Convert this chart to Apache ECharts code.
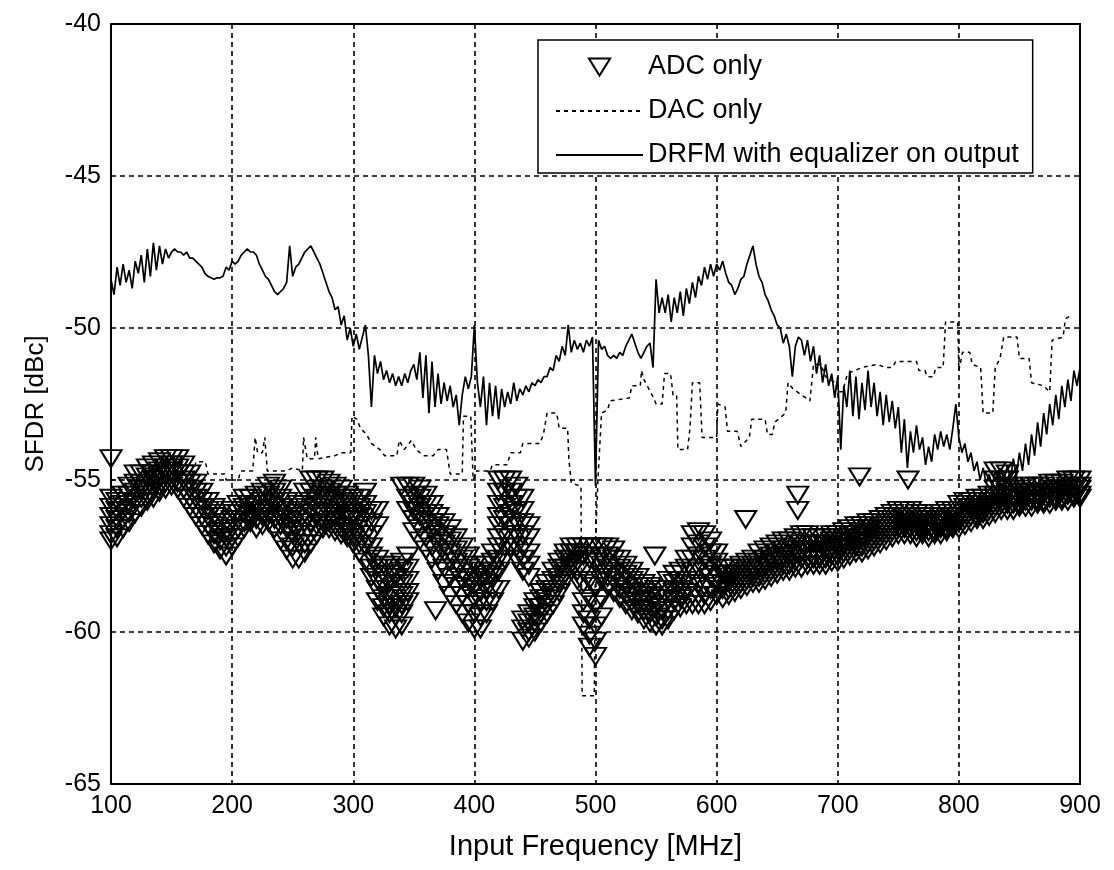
<!DOCTYPE html>
<html>
<head>
<meta charset="utf-8">
<script src="https://cdn.jsdelivr.net/npm/echarts@6/dist/echarts.min.js"></script>
<style>
html,body{margin:0;padding:0;background:#fff;}
#chart{width:1114px;height:870px;}
</style>
</head>
<body>
<div id="chart"></div>
<script>
// ---------------- DATA ----------------
const seriesNames = ['ADC only', 'DAC only', 'DRFM with equalizer on output'];
const xTicks = [100, 200, 300, 400, 500, 600, 700, 800, 900];
const yTicks = [-65, -60, -55, -50, -45, -40];

// ADC only: frequency [MHz] -> measured SFDR values [dBc]
const adcSamples = [
  [100, [-54.3, -55.6, -55.9, -56.2, -56.5, -56.8, -57.0]],
  [105, [-55.7, -56.0, -56.3, -56.6, -56.9]],
  [110, [-55.5, -55.8, -56.0, -56.3, -56.6]],
  [115, [-55.2, -55.5, -55.8, -56.1, -56.4]],
  [120, [-54.8, -55.1, -55.4, -55.7, -56.1]],
  [125, [-54.8, -55.1, -55.3, -55.6, -55.9]],
  [130, [-54.6, -54.9, -55.2, -55.5, -55.7]],
  [135, [-54.5, -54.8, -55.0, -55.3, -55.6]],
  [140, [-54.4, -54.7, -54.9, -55.2, -55.4]],
  [145, [-54.3, -54.6, -54.8, -55.1, -55.3]],
  [150, [-54.3, -54.5, -54.7, -55.0, -55.2]],
  [155, [-54.3, -54.6, -54.8, -55.1, -55.3]],
  [160, [-54.5, -54.8, -55.0, -55.3, -55.6]],
  [165, [-54.8, -55.1, -55.3, -55.6, -55.9]],
  [170, [-55.1, -55.4, -55.6, -55.9, -56.2]],
  [175, [-55.4, -55.7, -55.9, -56.2, -56.5]],
  [180, [-55.7, -56.0, -56.2, -56.5, -56.8]],
  [185, [-55.9, -56.2, -56.5, -56.8, -57.1]],
  [190, [-56.1, -56.4, -56.7, -57.0, -57.3]],
  [195, [-56.4, -56.7, -56.9, -57.2, -57.5]],
  [200, [-56.0, -56.3, -56.6, -56.9, -57.2]],
  [205, [-55.8, -56.1, -56.3, -56.6, -56.9]],
  [210, [-55.6, -55.9, -56.1, -56.4, -56.6]],
  [215, [-55.6, -55.8, -56.0, -56.2, -56.4]],
  [220, [-55.5, -55.8, -56.0, -56.3, -56.6]],
  [225, [-55.4, -55.7, -56.0, -56.2, -56.5]],
  [230, [-55.2, -55.5, -55.8, -56.1, -56.4]],
  [235, [-55.1, -55.4, -55.7, -55.9, -56.3, -56.6]],
  [240, [-55.3, -55.6, -55.9, -56.2, -56.5, -57.0]],
  [245, [-55.7, -56.0, -56.3, -56.6, -57.0, -57.3]],
  [250, [-55.9, -56.2, -56.5, -56.8, -57.2, -57.6]],
  [255, [-55.8, -56.1, -56.4, -56.7, -57.1, -57.6]],
  [260, [-55.4, -55.8, -56.1, -56.4, -56.8, -57.1, -57.4]],
  [265, [-55.0, -55.4, -55.7, -56.0, -56.4, -56.8, -57.1]],
  [270, [-55.0, -55.3, -55.6, -55.9, -56.2, -56.5, -56.8]],
  [275, [-55.0, -55.3, -55.5, -55.8, -56.1, -56.4, -56.6]],
  [280, [-55.1, -55.4, -55.6, -55.8, -56.1, -56.4, -56.6]],
  [285, [-55.2, -55.5, -55.7, -55.9, -56.2, -56.5, -56.7]],
  [290, [-55.3, -55.6, -55.8, -56.0, -56.3, -56.6, -56.8]],
  [295, [-55.5, -55.7, -56.0, -56.2, -56.5, -56.7, -56.9]],
  [300, [-55.6, -55.9, -56.1, -56.3, -56.6, -56.9, -57.1]],
  [305, [-55.6, -55.9, -56.2, -56.5, -56.8, -57.1, -57.4]],
  [310, [-55.4, -55.8, -56.1, -56.5, -56.8, -57.2, -57.7]],
  [315, [-56.0, -56.4, -56.8, -57.2, -57.5, -57.9, -58.2]],
  [320, [-56.0, -56.5, -57.6, -57.9, -58.3, -58.6, -59.0]],
  [325, [-57.8, -58.1, -58.4, -58.6, -58.9, -59.2, -59.5]],
  [330, [-57.8, -58.1, -58.4, -58.8, -59.1, -59.4, -59.8]],
  [335, [-57.9, -58.2, -58.5, -58.9, -59.2, -59.5, -59.9]],
  [340, [-55.2, -57.7, -58.0, -58.4, -58.8, -59.1, -59.4, -59.8]],
  [345, [-55.2, -55.6, -56.0, -57.5, -57.9, -58.3, -58.7, -59.0]],
  [350, [-55.2, -55.5, -55.8, -56.0, -56.3, -56.7]],
  [355, [-55.3, -55.6, -55.9, -56.2, -56.6, -57.0]],
  [360, [-55.5, -55.8, -56.1, -56.4, -56.9, -57.3]],
  [365, [-55.8, -56.1, -56.4, -56.7, -57.2, -57.6]],
  [368, [-59.3]],
  [370, [-56.2, -56.5, -56.8, -57.1, -57.5, -58.0]],
  [375, [-56.4, -56.8, -57.1, -57.4, -57.9, -58.4]],
  [380, [-56.6, -57.0, -57.4, -57.7, -58.2, -58.8]],
  [385, [-56.9, -57.3, -57.7, -58.0, -58.5, -59.1]],
  [390, [-57.2, -57.6, -58.0, -58.3, -58.8, -59.4]],
  [395, [-57.5, -57.9, -58.3, -58.6, -59.1, -59.7]],
  [400, [-57.8, -58.2, -58.5, -58.9, -59.4, -59.9]],
  [405, [-58.0, -58.3, -58.7, -59.0, -59.5, -59.9]],
  [410, [-57.8, -58.1, -58.4, -58.6, -59.0, -59.4]],
  [415, [-57.4, -57.7, -58.0, -58.2, -58.6, -59.0]],
  [420, [-55.0, -55.4, -55.8, -56.2, -56.5, -56.9, -57.2, -57.6, -58.0, -58.6]],
  [425, [-55.0, -55.4, -55.9, -56.3, -56.8, -57.2, -57.6]],
  [430, [-55.0, -55.4, -55.8, -56.1, -56.5, -56.9, -57.2]],
  [435, [-55.2, -55.6, -56.0, -56.4, -56.8, -57.2, -57.6]],
  [440, [-55.6, -56.0, -56.4, -56.8, -57.2, -57.6, -58.0, -59.6, -59.9, -60.3]],
  [445, [-56.5, -56.9, -57.4, -57.8, -58.2, -59.4, -59.7, -60.0, -60.2]],
  [450, [-59.0, -59.2, -59.5, -59.7, -60.0]],
  [455, [-58.7, -58.9, -59.2, -59.4, -59.7]],
  [460, [-58.4, -58.6, -58.9, -59.1, -59.4]],
  [465, [-58.0, -58.3, -58.6, -58.8, -59.1]],
  [470, [-57.7, -57.9, -58.2, -58.4, -58.7]],
  [475, [-57.4, -57.6, -57.9, -58.1, -58.3]],
  [480, [-57.2, -57.4, -57.6, -57.8, -58.0]],
  [485, [-57.2, -57.4, -57.7, -58.0, -58.3]],
  [490, [-57.2, -57.5, -58.0, -58.4, -59.0, -59.4, -59.8]],
  [495, [-57.2, -57.6, -58.3, -58.9, -59.6, -60.1, -60.5]],
  [500, [-57.2, -57.7, -58.5, -59.1, -59.8, -60.3, -60.8]],
  [505, [-57.2, -57.5, -57.8, -58.1, -58.3, -58.9, -59.5]],
  [510, [-57.2, -57.5, -57.9, -58.2, -58.5]],
  [515, [-57.3, -57.6, -58.0, -58.3, -58.7]],
  [520, [-57.6, -57.9, -58.3, -58.6, -58.9]],
  [525, [-57.8, -58.1, -58.5, -58.8, -59.1]],
  [530, [-58.0, -58.3, -58.7, -59.0, -59.3]],
  [535, [-58.2, -58.5, -58.8, -59.1, -59.4]],
  [540, [-58.4, -58.7, -59.0, -59.3, -59.6]],
  [545, [-58.5, -58.8, -59.1, -59.4, -59.7]],
  [549, [-57.5]],
  [550, [-58.6, -58.9, -59.2, -59.5, -59.8]],
  [555, [-58.6, -58.9, -59.3, -59.6, -59.8]],
  [560, [-58.3, -58.6, -58.9, -59.3, -59.6]],
  [565, [-58.1, -58.4, -58.7, -59.0, -59.3]],
  [570, [-58.0, -58.3, -58.6, -58.9, -59.2]],
  [575, [-57.6, -57.9, -58.3, -58.7, -59.1]],
  [580, [-56.8, -57.2, -57.6, -58.0, -58.4, -58.8, -59.1]],
  [585, [-56.7, -57.1, -57.5, -57.9, -58.4, -58.8, -59.1]],
  [590, [-56.8, -57.2, -57.6, -58.0, -58.5, -58.8, -59.1]],
  [595, [-57.0, -57.4, -57.8, -58.2, -58.6, -59.0]],
  [600, [-57.4, -57.7, -58.1, -58.4, -58.8]],
  [605, [-57.9, -58.1, -58.4, -58.6, -58.9]],
  [610, [-57.9, -58.1, -58.3, -58.6, -58.8]],
  [615, [-57.9, -58.1, -58.3, -58.5, -58.7]],
  [620, [-57.8, -58.0, -58.2, -58.4, -58.6]],
  [624, [-56.3]],
  [625, [-57.7, -57.9, -58.1, -58.3, -58.5]],
  [630, [-57.6, -57.8, -58.0, -58.2, -58.4]],
  [635, [-57.4, -57.7, -57.9, -58.2, -58.4]],
  [640, [-57.3, -57.6, -57.8, -58.1, -58.3]],
  [645, [-57.2, -57.5, -57.7, -58.0, -58.2]],
  [650, [-57.1, -57.4, -57.6, -57.9, -58.1]],
  [655, [-57.0, -57.3, -57.5, -57.8, -58.0]],
  [660, [-57.0, -57.3, -57.5, -57.8, -58.0]],
  [665, [-56.9, -57.2, -57.4, -57.7, -57.9]],
  [667, [-55.5, -56.0]],
  [670, [-56.8, -57.1, -57.3, -57.6, -57.9]],
  [675, [-56.8, -57.1, -57.3, -57.6, -57.8]],
  [680, [-56.9, -57.1, -57.3, -57.6, -57.8]],
  [685, [-56.9, -57.1, -57.3, -57.6, -57.8]],
  [690, [-56.9, -57.1, -57.3, -57.6, -57.8]],
  [695, [-56.8, -57.0, -57.2, -57.5, -57.7]],
  [700, [-56.8, -57.0, -57.2, -57.5, -57.7]],
  [705, [-56.7, -56.9, -57.1, -57.4, -57.6]],
  [710, [-56.6, -56.8, -57.0, -57.3, -57.5]],
  [715, [-56.5, -56.8, -57.0, -57.2, -57.4]],
  [718, [-54.9]],
  [720, [-56.5, -56.7, -56.9, -57.2, -57.4]],
  [725, [-56.4, -56.6, -56.8, -57.1, -57.3]],
  [730, [-56.4, -56.6, -56.8, -57.0, -57.2]],
  [735, [-56.3, -56.5, -56.7, -56.9, -57.1]],
  [740, [-56.2, -56.4, -56.6, -56.8, -57.0]],
  [745, [-56.1, -56.3, -56.5, -56.7, -56.9]],
  [750, [-56.0, -56.2, -56.4, -56.6, -56.8]],
  [755, [-56.0, -56.2, -56.4, -56.6, -56.8]],
  [758, [-55.0]],
  [760, [-56.0, -56.2, -56.4, -56.6, -56.8]],
  [765, [-56.1, -56.3, -56.5, -56.7, -56.9]],
  [770, [-56.1, -56.3, -56.5, -56.7, -56.8]],
  [775, [-56.2, -56.4, -56.5, -56.7, -56.9]],
  [780, [-56.2, -56.4, -56.5, -56.7, -56.8]],
  [785, [-56.1, -56.3, -56.4, -56.6, -56.8]],
  [790, [-56.0, -56.2, -56.4, -56.6, -56.7]],
  [795, [-56.0, -56.2, -56.3, -56.5, -56.6]],
  [800, [-55.8, -56.0, -56.2, -56.4, -56.6]],
  [805, [-55.7, -55.9, -56.1, -56.3, -56.5]],
  [810, [-55.7, -55.9, -56.0, -56.2, -56.4]],
  [815, [-55.6, -55.8, -56.0, -56.2, -56.3]],
  [820, [-55.6, -55.8, -55.9, -56.1, -56.3]],
  [825, [-55.5, -55.7, -55.8, -56.0, -56.2]],
  [830, [-54.7, -55.0, -55.3, -55.5, -55.7, -55.9, -56.1]],
  [835, [-54.7, -55.0, -55.3, -55.5, -55.6, -55.8, -56.0]],
  [840, [-54.8, -55.0, -55.2, -55.4, -55.6, -55.8, -56.0]],
  [845, [-55.3, -55.5, -55.6, -55.8, -56.0]],
  [850, [-55.3, -55.4, -55.6, -55.8, -55.9]],
  [855, [-55.2, -55.4, -55.5, -55.7, -55.9]],
  [860, [-55.2, -55.4, -55.5, -55.7, -55.9]],
  [865, [-55.2, -55.4, -55.5, -55.7, -55.8]],
  [870, [-55.2, -55.4, -55.5, -55.7, -55.8]],
  [875, [-55.1, -55.3, -55.4, -55.6, -55.8]],
  [880, [-55.1, -55.3, -55.4, -55.6, -55.7]],
  [885, [-55.1, -55.3, -55.4, -55.6, -55.7]],
  [890, [-55.0, -55.2, -55.3, -55.5, -55.7]],
  [895, [-55.0, -55.2, -55.3, -55.5, -55.6]],
  [900, [-55.0, -55.2, -55.3, -55.5, -55.6]]
];

// DAC only: corner points of the stepped trace [MHz, dBc]
const dacPoints = [
  [100, -55.0], [120, -55.0], [140, -55.0], [168, -55.0], [170, -54.4], [178, -54.4], [180, -54.8],
  [194, -54.8], [195, -55.0], [205, -55.0], [207, -54.7], [217, -54.7], [219, -53.6], [221, -54.1],
  [225, -54.1], [227, -53.6], [229, -54.7], [245, -54.7], [250, -54.6], [258, -54.7], [259, -53.6],
  [262, -54.3], [268, -54.3], [269, -53.6], [271, -54.3], [285, -54.2], [290, -54.1], [298, -54.1],
  [299, -52.9], [303, -53.0], [306, -53.3], [311, -53.5], [315, -53.8], [322, -54.0], [326, -54.2],
  [336, -54.2], [338, -53.7], [342, -54.0], [348, -53.7], [352, -54.0], [358, -54.2], [366, -54.2],
  [370, -54.0], [377, -54.0], [380, -54.8], [390, -54.8], [391, -52.9], [397, -52.9], [399, -55.0],
  [402, -54.7], [413, -54.7], [415, -54.5], [427, -54.5], [430, -54.1], [438, -54.1], [440, -53.8],
  [454, -53.8], [457, -53.5], [460, -52.8], [468, -52.8], [470, -53.3], [477, -53.3], [478, -54.3],
  [480, -55.1], [488, -55.2], [489, -62.1], [499, -62.1], [500, -57.0], [502, -55.0], [505, -52.8],
  [510, -52.7], [512, -52.4], [528, -52.3], [530, -51.9], [537, -51.9], [538, -51.4], [540, -51.7],
  [548, -52.3], [550, -52.5], [555, -52.5], [557, -51.5], [562, -51.5], [564, -52.2], [567, -52.2],
  [568, -54.0], [576, -54.0], [578, -53.3], [580, -51.8], [586, -51.8], [588, -53.6], [600, -53.6],
  [601, -52.5], [607, -52.6], [609, -53.4], [617, -53.4], [620, -53.9], [627, -53.6], [629, -53.0],
  [640, -53.0], [642, -53.5], [646, -53.5], [648, -53.1], [657, -52.8], [659, -51.8], [663, -52.0],
  [670, -52.2], [677, -52.4], [680, -51.2], [686, -51.2], [690, -51.6], [698, -51.8], [700, -52.1],
  [704, -52.1], [708, -51.5], [720, -51.3], [732, -51.2], [740, -51.3], [745, -51.3], [748, -51.1],
  [765, -51.1], [767, -51.4], [772, -51.4], [774, -51.6], [779, -51.6], [781, -51.3], [787, -51.3],
  [789, -49.8], [799, -49.8], [800, -51.4], [803, -50.8], [809, -50.8], [811, -51.2], [818, -51.3],
  [820, -52.8], [828, -52.8], [830, -51.3], [834, -51.0], [837, -50.3], [848, -50.3], [850, -51.0],
  [858, -51.0], [860, -51.8], [870, -51.9], [875, -52.1], [877, -50.4], [886, -50.3], [888, -49.7],
  [892, -49.6]
];

// DRFM with equalizer on output: samples every 2.5 MHz from 100 MHz
const drfmStartMHz = 100;
const drfmStepMHz = 2.5;
const drfmValues = [
  -48.4,-48.9,-48.0,-48.6,-47.9,-48.5,-48.1,-48.7,-47.8,-48.2,-47.6,-48.5,-47.4,-48.3,-47.2,-48.1,-47.3,-47.9,-47.4,-47.7,
  -47.5,-47.4,-47.5,-47.5,-47.6,-47.5,-47.7,-47.7,-47.8,-47.9,-48.0,-48.2,-48.3,-48.35,-48.4,-48.35,-48.35,-48.3,-48.0,-48.1,
  -47.8,-47.9,-47.8,-47.6,-47.5,-47.4,-47.5,-47.5,-47.6,-47.9,-48.1,-48.3,-48.4,-48.6,-48.8,-48.9,-48.8,-48.7,-48.5,-47.3,
  -48.3,-48.0,-47.9,-47.7,-47.5,-47.4,-47.3,-47.5,-47.7,-47.9,-48.2,-48.5,-48.8,-49.0,-49.4,-49.3,-49.9,-49.6,-50.4,-50.0,
  -50.6,-50.2,-50.7,-50.3,-49.9,-50.9,-52.6,-50.9,-51.5,-51.1,-51.7,-51.4,-51.8,-51.5,-51.9,-51.6,-51.9,-51.5,-51.8,-51.4,
  -51.2,-51.7,-50.8,-52.3,-50.9,-52.8,-51.1,-52.6,-51.5,-52.5,-51.8,-52.4,-51.9,-52.6,-52.2,-53.2,-52.2,-51.6,-52.0,-51.6,
  -49.9,-51.8,-52.6,-51.6,-53.2,-51.8,-52.9,-51.9,-53.0,-52.0,-52.6,-52.1,-52.5,-51.8,-52.4,-52.0,-52.2,-51.9,-52.1,-51.8,
  -51.9,-51.7,-51.8,-51.6,-51.6,-51.3,-51.4,-50.9,-51.1,-50.6,-50.9,-49.9,-50.8,-50.4,-50.7,-50.5,-50.8,-50.4,-50.6,-50.3,
  -55.2,-50.4,-50.7,-50.6,-50.9,-51.0,-50.9,-51.0,-50.8,-50.9,-50.6,-50.4,-50.2,-50.5,-50.8,-51.0,-50.8,-50.6,-50.5,-51.3,
  -48.4,-49.5,-49.0,-49.5,-48.9,-49.8,-49.0,-49.5,-48.8,-49.6,-48.7,-49.2,-48.5,-49.0,-48.3,-48.6,-48.0,-48.4,-47.9,-48.3,
  -47.9,-48.1,-47.8,-48.2,-48.5,-48.6,-48.9,-48.7,-48.4,-48.3,-47.9,-47.6,-47.3,-47.9,-48.3,-48.5,-48.9,-49.1,-49.4,-49.6,
  -49.9,-50.0,-50.5,-50.2,-50.6,-51.6,-50.6,-50.3,-50.4,-50.9,-50.4,-51.1,-50.6,-51.5,-50.9,-51.8,-51.2,-51.9,-51.5,-52.3,
  -51.6,-54.0,-51.9,-52.6,-51.4,-52.9,-51.6,-53.0,-51.8,-52.7,-51.4,-52.6,-51.8,-52.9,-52.1,-53.2,-52.2,-53.1,-52.4,-53.3,
  -52.6,-54.1,-53.0,-54.6,-53.4,-54.1,-53.2,-54.0,-53.6,-54.5,-53.9,-54.4,-53.5,-54.0,-53.4,-53.9,-53.5,-54.0,-53.3,-52.5,
  -53.6,-54.1,-53.8,-54.4,-54.1,-54.7,-54.4,-55.0,-54.6,-55.1,-54.8,-55.2,-54.7,-55.1,-54.6,-55.0,-54.5,-55.0,-54.3,-54.9,
  -54.1,-54.7,-53.8,-54.5,-53.5,-54.2,-53.1,-53.9,-52.8,-53.5,-52.5,-53.2,-52.2,-53.0,-51.9,-52.6,-51.7,-52.4,-51.4,-51.9,
  -51.3
];

// ---------------- BUILD ----------------
const adcData = [];
adcSamples.forEach(([f, vals]) => vals.forEach(v => adcData.push([f, v])));
const drfmData = drfmValues.map((v, i) => [drfmStartMHz + drfmStepMHz * i, v]);

const FONT = 'Liberation Sans, Arial, Helvetica, sans-serif';
const TRI = 'path://M0,0 L20,0 L10,16 Z';

const chart = echarts.init(document.getElementById('chart'), null, {renderer: 'canvas'});
chart.setOption({
  animation: false,
  backgroundColor: '#fff',
  grid: {left: 111, top: 24, right: 34, bottom: 86, show: true, borderColor: '#000', borderWidth: 2, backgroundColor: 'transparent'},
  legend: {
    orient: 'vertical', left: 538, top: 40,
    padding: [12, 14, 3, 17], itemGap: 14, itemWidth: 87, itemHeight: 17,
    backgroundColor: '#fff', borderColor: '#000', borderWidth: 1.5,
    textStyle: {fontSize: 27, color: '#000', fontFamily: FONT, lineHeight: 30},
    data: [
      {name: seriesNames[0]},
      {name: seriesNames[1], itemStyle: {opacity: 0}},
      {name: seriesNames[2], itemStyle: {opacity: 0}}
    ]
  },
  xAxis: {
    type: 'value', min: xTicks[0], max: xTicks[xTicks.length - 1], interval: 100,
    name: 'Input Frequency [MHz]', nameLocation: 'middle', nameGap: 48,
    nameTextStyle: {fontSize: 29, color: '#000', fontFamily: FONT},
    axisLine: {show: true, lineStyle: {color: '#000', width: 2}},
    axisTick: {show: false},
    axisLabel: {fontSize: 25, color: '#000', fontFamily: FONT, margin: 10},
    splitLine: {show: true, lineStyle: {color: '#000', width: 1.6, type: [5, 4]}}
  },
  yAxis: {
    type: 'value', min: yTicks[0], max: yTicks[yTicks.length - 1], interval: 5,
    name: 'SFDR [dBc]', nameLocation: 'middle', nameGap: 62, nameRotate: 90,
    nameTextStyle: {fontSize: 26, color: '#000', fontFamily: FONT},
    axisLine: {show: true, lineStyle: {color: '#000', width: 2}},
    axisTick: {show: false},
    axisLabel: {fontSize: 25, color: '#000', fontFamily: FONT, margin: 10},
    splitLine: {show: true, lineStyle: {color: '#000', width: 1.6, type: [5, 4]}}
  },
  series: [
    {
      name: seriesNames[0], type: 'scatter', data: adcData,
      symbol: TRI, symbolSize: [21, 17], z: 3,
      itemStyle: {color: 'rgba(0,0,0,0)', borderColor: '#000', borderWidth: 2, opacity: 1}
    },
    {
      name: seriesNames[1], type: 'line', data: dacPoints, symbol: 'none', z: 2,
      lineStyle: {color: '#000', width: 1.5, type: [4, 4]}, itemStyle: {color: '#000'}
    },
    {
      name: seriesNames[2], type: 'line', data: drfmData, symbol: 'none', z: 4,
      lineStyle: {color: '#000', width: 1.7}, itemStyle: {color: '#000'}
    }
  ]
});
</script>
</body>
</html>
